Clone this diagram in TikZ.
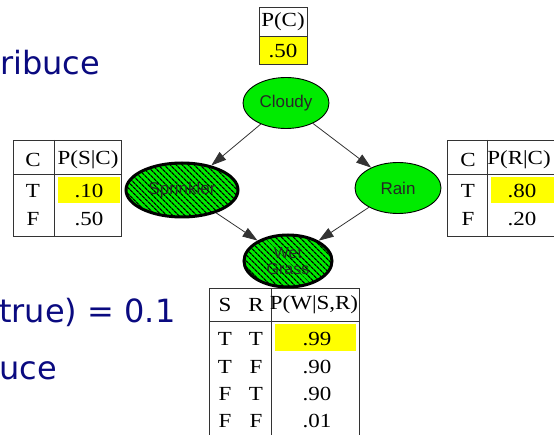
\documentclass[tikz,border=0pt]{standalone}
\usepackage{fontspec}
\setmainfont{Liberation Serif}
\newfontfamily\nodefont{Liberation Sans}
\newfontfamily\slidefont{DejaVu Sans}
\usetikzlibrary{shapes.geometric,arrows.meta,patterns.meta}
\definecolor{grn}{RGB}{0,235,0}
\definecolor{ylw}{RGB}{255,255,0}
\definecolor{navyt}{RGB}{10,10,128}
\newcommand{\widetxt}[1]{\scalebox{1.15}[1]{#1}}
\tikzset{
  ell/.style={ellipse, draw=black, line width=0.9pt, fill=grn, inner sep=0pt,
    font=\nodefont\fontsize{17}{17}\selectfont, text=black!85},
  hatch/.style={line width=3pt,
    postaction={pattern={Lines[angle=-45,distance=4pt,line width=1.3pt]}, pattern color=black}},
  arr/.style={draw=black!80, line width=0.8pt, -{Triangle[length=15pt,width=10pt]}},
  tbl/.style={draw=black!80, line width=0.9pt},
  cell/.style={font=\fontsize{20}{20}\selectfont, inner sep=0pt, anchor=center},
  slide/.style={font=\slidefont\fontsize{32}{32}\selectfont, text=navyt, anchor=base west, inner sep=0pt}
}
\begin{document}
\begin{tikzpicture}[x=1pt,y=-1pt]
\useasboundingbox (0,0) rectangle (554,435);
\clip (0,0) rectangle (554,435);

% slide text fragments
\node[slide] (t1) at (0,75) {ribuce};
\node[slide] (t2) at (-1,323) {true) = 0.1};
\node[slide] (t3) at (-1,380) {uce};

% P(C) table
\fill[ylw] (259,36) rectangle (307,64);
\draw[tbl] (259,7) rectangle (307,64);
\draw[tbl] (259,36) -- (307,36);
\node[cell] (pch) at (283,22) {\widetxt{P(C)}};
\node[cell] (pcv) at (283,51) {\widetxt{.50}};

% P(S|C) table
\fill[ylw] (58,177) rectangle (120,203);
\draw[tbl] (13,140) rectangle (121,236);
\draw[tbl] (54,140) -- (54,236);
\draw[tbl] (13,174) -- (121,174);
\node[cell] (sc1) at (33,160) {\widetxt{C}};
\node[cell] (sc2) at (88,160) {\widetxt{P(S|C)}};
\node[cell] (sc3) at (33,191) {\widetxt{T}};
\node[cell] (sc4) at (89,191) {\widetxt{.10}};
\node[cell] (sc5) at (33,219) {\widetxt{F}};
\node[cell] (sc6) at (89,219) {\widetxt{.50}};

% P(R|C) table
\fill[ylw] (491,177) rectangle (560,203);
\draw[tbl] (447,140) rectangle (570,236);
\draw[tbl] (487,140) -- (487,236);
\draw[tbl] (447,174) -- (570,174);
\node[cell] (rc1) at (468,160) {\widetxt{C}};
\node[cell] (rc2) at (519,160) {\widetxt{P(R|C)}};
\node[cell] (rc3) at (468,191) {\widetxt{T}};
\node[cell] (rc4) at (522,191) {\widetxt{.80}};
\node[cell] (rc5) at (468,219) {\widetxt{F}};
\node[cell] (rc6) at (522,219) {\widetxt{.20}};

% P(W|S,R) table
\fill[ylw] (275,324) rectangle (356,351);
\draw[tbl] (209,288) rectangle (359,450);
\draw[tbl] (271,288) -- (271,450);
\draw[tbl] (209,321) -- (359,321);
\node[cell] (w1) at (225,305) {\widetxt{S}};
\node[cell] (w2) at (256,305) {\widetxt{R}};
\node[cell] (w3) at (314,305) {\widetxt{P(W|S,R)}};
\node[cell] (w4) at (225,339) {\widetxt{T}};
\node[cell] (w5) at (256,339) {\widetxt{T}};
\node[cell] (w6) at (317,339) {\widetxt{.99}};
\node[cell] (w7) at (225,367) {\widetxt{T}};
\node[cell] (w8) at (256,367) {\widetxt{F}};
\node[cell] (w9) at (317,367) {\widetxt{.90}};
\node[cell] (w10) at (225,394) {\widetxt{F}};
\node[cell] (w11) at (256,394) {\widetxt{T}};
\node[cell] (w12) at (317,394) {\widetxt{.90}};
\node[cell] (w13) at (225,421) {\widetxt{F}};
\node[cell] (w14) at (256,421) {\widetxt{F}};
\node[cell] (w15) at (317,421) {\widetxt{.01}};

% network nodes
\node[ell, minimum width=86, minimum height=51] (cloudy) at (286,103) {Cloudy};
\node[ell, minimum width=86, minimum height=51] (rain) at (398,188) {Rain};
\node[ell, hatch, minimum width=112, minimum height=54] (sprinkler) at (182,190) {Sprinkler};
\node[ell, hatch, minimum width=88, minimum height=52, align=center,
      font=\nodefont\fontsize{16}{16}\selectfont] (wet) at (288,261) {Wet\\Grass};

% arrows
\draw[arr] (cloudy) -- (sprinkler);
\draw[arr] (cloudy) -- (rain);
\draw[arr] (sprinkler) -- (wet);
\draw[arr] (rain) -- (wet);
\end{tikzpicture}
\end{document}
